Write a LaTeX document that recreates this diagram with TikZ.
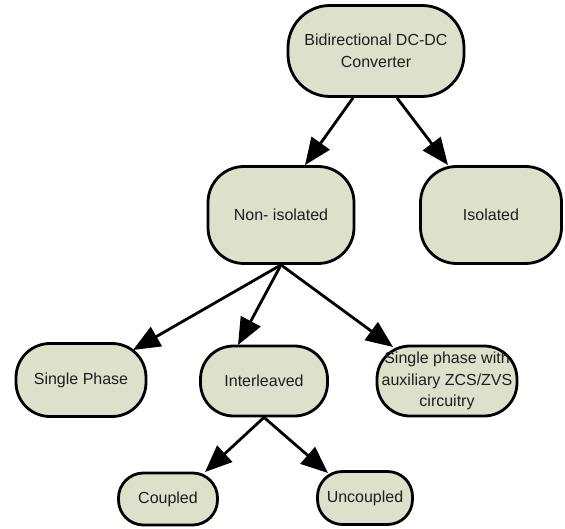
\documentclass[tikz,border=0pt]{standalone}
\usepackage{fontspec}
\setmainfont{Liberation Sans}
\usetikzlibrary{arrows.meta,calc}
\definecolor{boxfill}{HTML}{DDE0CA}
\definecolor{txt}{HTML}{1E1E1E}
\begin{document}
\begin{tikzpicture}[x=1pt,y=-1pt,
  box/.style={draw=black,line width=2.8pt,fill=boxfill,rectangle,inner sep=0pt,
    align=center,text=txt,font=\fontsize{16pt}{21.5pt}\selectfont},
  conn/.style={line width=2.8pt,-{Triangle[length=27pt,width=22pt]}}]
\useasboundingbox (0,0) rectangle (565,529);
\node[box,minimum width=176pt,minimum height=91pt,rounded corners=42pt] (top) at (376,51) {Bidirectional DC-DC\\Converter};
\node[box,minimum width=146pt,minimum height=97pt,rounded corners=36pt] (noniso) at (281,215) {Non- isolated};
\node[box,minimum width=141pt,minimum height=97pt,rounded corners=36pt] (iso) at (491,215) {Isolated};
\node[box,minimum width=130pt,minimum height=73pt,rounded corners=34pt] (single) at (81,380) {Single Phase};
\node[box,minimum width=127pt,minimum height=70pt,rounded corners=33pt] (inter) at (264,381) {Interleaved};
\node[box,minimum width=140pt,minimum height=70pt,rounded corners=33pt] (aux) at (447,381) {Single phase with\\auxiliary ZCS/ZVS\\circuitry};
\node[box,minimum width=99pt,minimum height=52pt,rounded corners=25pt] (coupled) at (168,499) {Coupled};
\node[box,minimum width=95pt,minimum height=53pt,rounded corners=25pt] (uncoupled) at (365,498) {Uncoupled};
\draw[conn] ($(top.south)+(-23,0)$) -- ($(noniso.north)+(24,0)$);
\draw[conn] ($(top.south)+(21,0)$) -- ($(iso.north)+(-43,0)$);
\draw[conn] (noniso.south) -- ($(single.center)+(52,-30)$);
\draw[conn] (noniso.south) -- ($(inter.center)+(-26,-36)$);
\draw[conn] (noniso.south) -- ($(aux.center)+(-54,-34)$);
\draw[conn] (inter.south) -- ($(coupled.center)+(37,-27)$);
\draw[conn] (inter.south) -- ($(uncoupled.center)+(-37,-25)$);
\end{tikzpicture}
\end{document}
